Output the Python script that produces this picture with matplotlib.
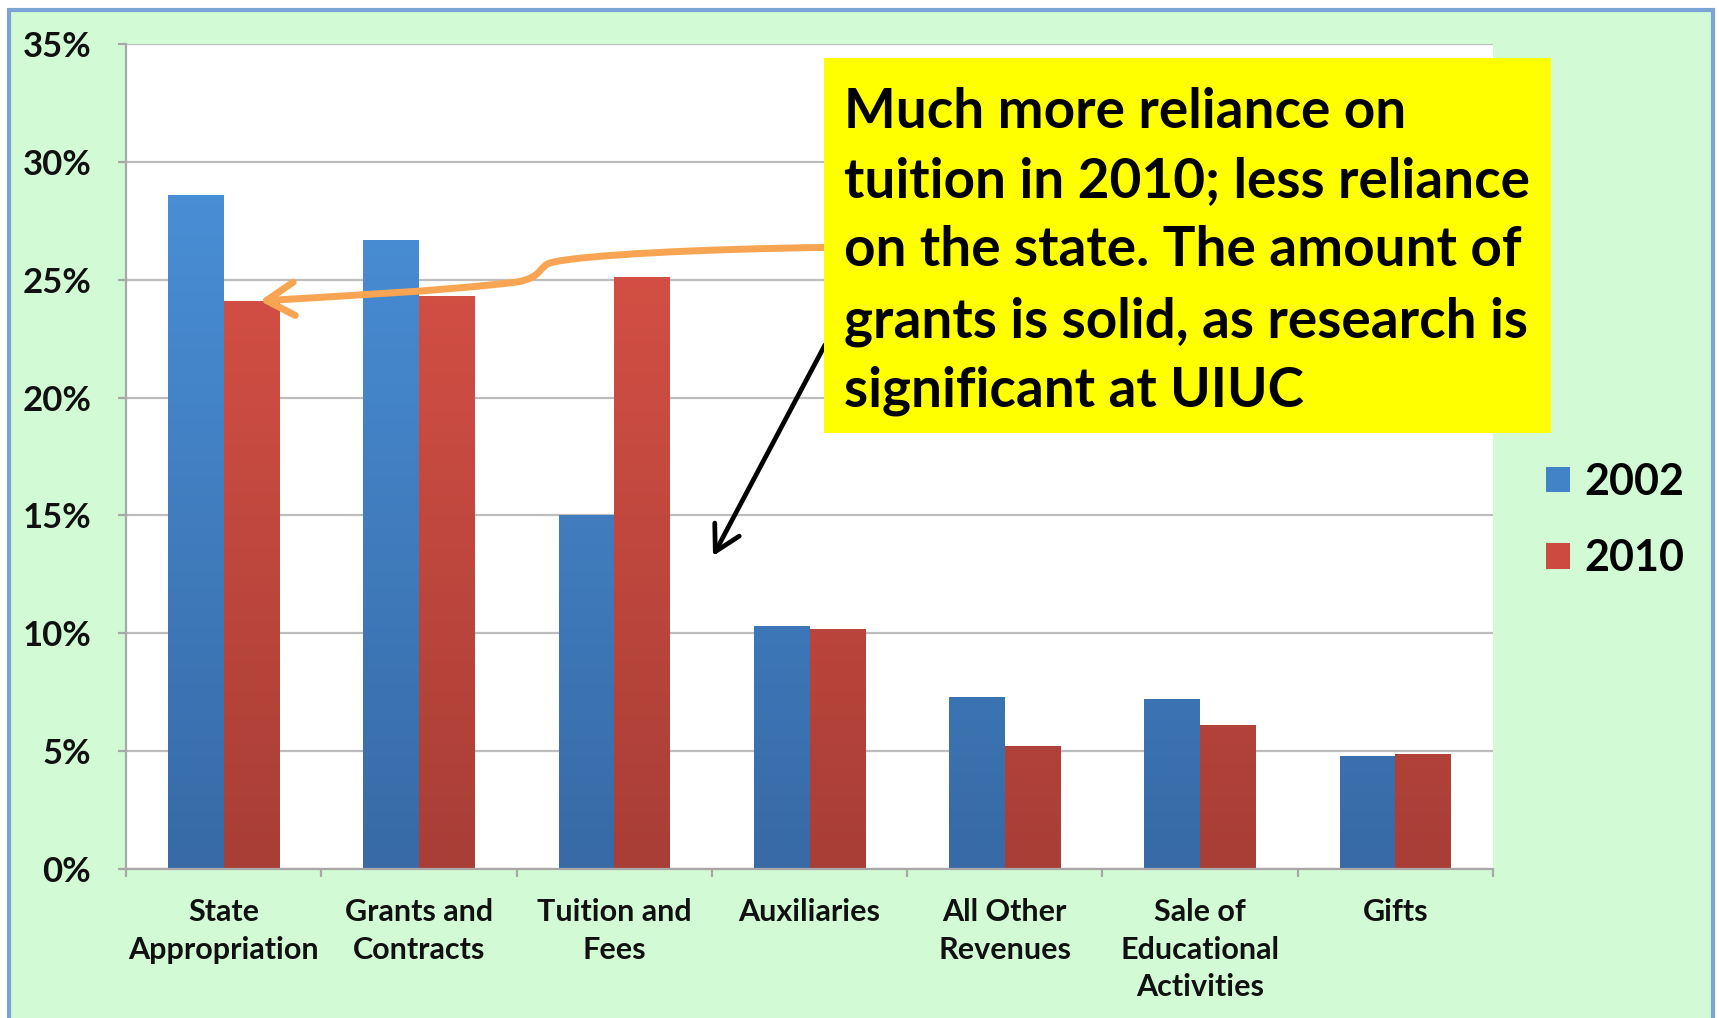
import numpy as np
import matplotlib
matplotlib.use("Agg")
import matplotlib.pyplot as plt
from matplotlib.patches import Rectangle, FancyArrowPatch, Patch
from matplotlib.path import Path
from matplotlib.colors import LinearSegmentedColormap
from matplotlib.ticker import FixedLocator, FuncFormatter

# Revenue shares by source (percent of total revenue)
categories = ["State\nAppropriation", "Grants and\nContracts", "Tuition and\nFees",
              "Auxiliaries", "All Other\nRevenues", "Sale of\nEducational\nActivities", "Gifts"]
share_2002 = [28.6, 26.7, 15.0, 10.3, 7.3, 7.2, 4.8]
share_2010 = [24.1, 24.3, 25.1, 10.2, 5.2, 6.1, 4.9]
years = ["2002", "2010"]
y_ticks = [0, 5, 10, 15, 20, 25, 30, 35]

note_lines = ["Much more reliance on",
              "tuition in 2010; less reliance",
              "on the state. The amount of",
              "grants is solid, as research is",
              "significant at UIUC"]

plt.rcParams["font.family"] = ["Lato", "DejaVu Sans"]
plt.rcParams["font.weight"] = "bold"

W, H = 1719, 1018
fig = plt.figure(figsize=(W / 100, H / 100), dpi=100)
fig.patch.set_facecolor("white")

# slide panel with light green fill and blue frame
panel = Rectangle((9 / W, -0.02), (1713 - 9) / W, 1 - 10 / H + 0.02,
                  transform=fig.transFigure, facecolor="#D2FAD4",
                  edgecolor="#7BA3D6", lw=3, zorder=0)
fig.add_artist(panel)

ax = fig.add_axes([126 / W, 1 - 869 / H, (1493 - 126) / W, (869 - 44) / H])
ax.set_facecolor("white")

x = np.arange(len(categories))
bw = 0.285
off = 0.1425

blue_cmap = LinearSegmentedColormap.from_list("blue_grad", ["#376AA6", "#4A90D8"])
red_cmap = LinearSegmentedColormap.from_list("red_grad", ["#A83E36", "#DB5247"])

bars_a = ax.bar(x - off, share_2002, bw, color="#4280C4", zorder=2, linewidth=0)
bars_b = ax.bar(x + off, share_2010, bw, color="#C9493F", zorder=2, linewidth=0)

grad = np.linspace(0, 1, 256).reshape(-1, 1)
for bars, cmap in ((bars_a, blue_cmap), (bars_b, red_cmap)):
    for b in bars:
        x0 = b.get_x()
        w = b.get_width()
        im = ax.imshow(grad, cmap=cmap, origin="lower", aspect="auto",
                       extent=[x0, x0 + w, 0, 30], zorder=2.5)
        im.set_clip_path(b)

ax.set_xlim(-0.5, len(categories) - 0.5)
ax.set_ylim(0, 35)

# grid and axes
ax.set_axisbelow(True)
ax.yaxis.set_major_locator(FixedLocator(y_ticks))
ax.yaxis.set_major_formatter(FuncFormatter(lambda v, p: f"{v:.0f}%"))
ax.yaxis.grid(True, color="#BDBDBD", lw=1.6)
for s in ("top", "right"):
    ax.spines[s].set_visible(False)
for s in ("left", "bottom"):
    ax.spines[s].set_color("#A8A8A8")
    ax.spines[s].set_linewidth(1.6)

ax.tick_params(axis="y", length=6, width=1.6, color="#A8A8A8", pad=19,
               labelsize=25, labelcolor="#111111")
ax.set_xticks(x)
ax.set_xticklabels(categories, fontsize=22, fontweight="bold", linespacing=1.42,
                   color="#111111")
ax.tick_params(axis="x", which="major", length=0, pad=21)
ax.set_xticks(np.arange(-0.5, len(categories), 1.0), minor=True)
ax.tick_params(axis="x", which="minor", length=6, width=1.6, color="#A8A8A8")
for lab in ax.get_yticklabels():
    lab.set_fontweight("bold")

# legend
handles = [Patch(facecolor="#4283C8"), Patch(facecolor="#CC4A40")]
ax.legend(handles, years, loc="center left", bbox_to_anchor=(1546 / W, 1 - 520 / H),
          bbox_transform=fig.transFigure, frameon=False, borderpad=0, borderaxespad=0,
          prop={"size": 31, "weight": "bold"}, handlelength=0.55, handleheight=0.55,
          handletextpad=0.35, labelspacing=0.85)

# callout box
box = Rectangle((824 / W, 1 - 433 / H), (1551 - 824) / W, (433 - 58) / H,
                transform=fig.transFigure, facecolor="#FFFF00", edgecolor="none", zorder=5)
fig.add_artist(box)
baselines = [128, 197, 266, 337, 407]
for line, yb in zip(note_lines, baselines):
    fig.text(844 / W, 1 - yb / H, line, fontsize=39.5, fontweight="bold",
             va="baseline", ha="left", color="black", zorder=6)

# orange arrow from the callout to the 2010 state appropriation bar
tip = (0.185, share_2010[0])
verts = [(3.079, 26.37),
         (2.449, 26.30), (1.831, 26.05), (1.680, 25.73),
         (1.610, 25.60), (1.640, 25.10), (1.500, 24.90),
         (1.101, 24.50), (0.539, 24.28), tip]
codes = [Path.MOVETO] + [Path.CURVE4] * 9
orange = FancyArrowPatch(path=Path(verts, codes),
                         arrowstyle="->,head_length=1.0,head_width=0.6",
                         mutation_scale=20, color="#F7A553", lw=5.0,
                         capstyle="round", joinstyle="round",
                         transform=ax.transData, zorder=4, clip_on=False)
ax.add_patch(orange)

# black arrow from the callout toward the tuition bars
black = FancyArrowPatch((3.079, 22.23), (2.506, 13.28),
                        arrowstyle="->,head_length=0.9,head_width=0.5",
                        mutation_scale=20, color="black", lw=3.4,
                        capstyle="round", joinstyle="round",
                        shrinkA=0, shrinkB=0,
                        transform=ax.transData, zorder=4, clip_on=False)
ax.add_patch(black)

fig.savefig("out.png", dpi=100, facecolor=fig.get_facecolor())
